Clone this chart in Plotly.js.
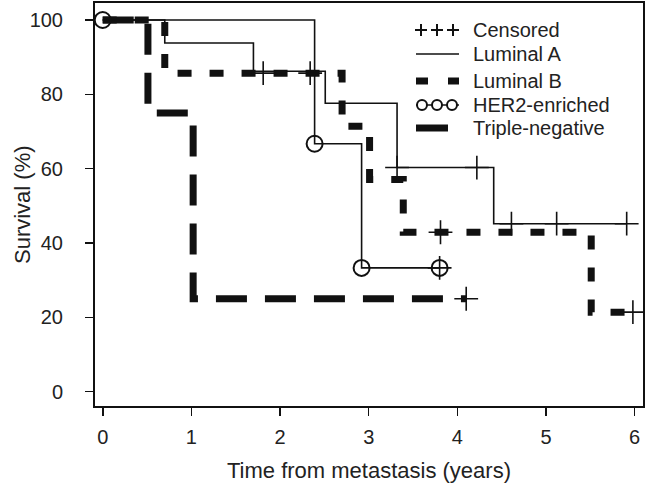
<!DOCTYPE html>
<html>
<head>
<meta charset="utf-8">
<script src="https://cdn.plot.ly/plotly-3.0.1.min.js"></script>
<style>html,body{margin:0;padding:0;background:#fff;}#chart{width:648px;height:485px;}</style>
</head>
<body>
<div id="chart"></div>
<script>
// ---- data ----
var lumATime = [0, 0.70, 1.70, 2.51, 3.32, 4.41, 5.91];
var lumASurv = [100, 93.8, 86.2, 77.6, 60.3, 45.2, 45.2];
var lumACensTime = [3.32, 4.22, 4.61, 5.12, 5.91];
var lumACensSurv = [60.3, 60.3, 45.2, 45.2, 45.2];

var lumBTime = [0, 0.70, 2.70, 3.01, 3.39, 5.51, 5.98];
var lumBSurv = [100, 85.7, 71.4, 57.1, 42.9, 21.4, 21.4];
var lumBCensTime = [1.81, 2.34, 3.81, 5.98];
var lumBCensSurv = [85.7, 85.7, 42.9, 21.4];

var her2Time = [0, 2.39, 2.92, 3.80];
var her2Surv = [100, 66.7, 33.3, 33.3];
var her2CensTime = [3.80];
var her2CensSurv = [33.3];

var tnTime = [0, 0.51, 1.02, 4.10];
var tnSurv = [100, 75, 25, 25];
var tnCensTime = [4.10];
var tnCensSurv = [25];

var xTicks = [0, 1, 2, 3, 4, 5, 6];
var yTicks = [0, 20, 40, 60, 80, 100];
var legendLabels = ['Censored', 'Luminal A', 'Luminal B', 'HER2-enriched', 'Triple-negative'];
var xTitle = 'Time from metastasis (years)';
var yTitle = 'Survival (%)';

// ---- styling ----
var FONT = '"Liberation Sans", Arial, Helvetica, sans-serif';
var INK = '#111';

function stepTrace(t, s, width, dash, mode, marker) {
  var tr = {x: t, y: s, type: 'scatter', mode: mode || 'lines',
    line: {shape: 'hv', color: INK, width: width, dash: dash || 'solid'},
    hoverinfo: 'skip', showlegend: false};
  if (marker) tr.marker = marker;
  return tr;
}
function censTrace(t, s) {
  return {x: t, y: s, type: 'scatter', mode: 'markers',
    marker: {symbol: 'cross-thin', size: 17, color: INK, line: {width: 1.6, color: INK}},
    hoverinfo: 'skip', showlegend: false};
}

var traces = [
  stepTrace(tnTime, tnSurv, 7, '31px,18px'),
  stepTrace(lumBTime, lumBSurv, 7, '14px,18px'),
  stepTrace(lumATime, lumASurv, 1.6, 'solid'),
  stepTrace(her2Time, her2Surv, 1.6, 'solid', 'lines+markers',
    {symbol: 'circle-open', size: 16, color: INK, line: {width: 2, color: INK}}),
  censTrace(lumACensTime, lumACensSurv),
  censTrace(lumBCensTime, lumBCensSurv),
  censTrace(her2CensTime, her2CensSurv),
  censTrace(tnCensTime, tnCensSurv)
];

// ---- custom legend (pixel positions converted to paper coordinates) ----
var PL = 95, PR = 643, PT = 3, PB = 406;
function px(x) { return (x - PL) / (PR - PL); }
function py(y) { return (PB - y) / (PB - PT); }
function seg(x0, y0, x1, y1, w) {
  return {type: 'line', xref: 'paper', yref: 'paper', x0: px(x0), y0: py(y0), x1: px(x1), y1: py(y1),
    line: {color: INK, width: w}};
}
var rowY = [30, 54, 81, 105, 128];
var shapes = [];
// +++
[421, 437, 453].forEach(function (cx) {
  shapes.push(seg(cx - 6, rowY[0], cx + 6, rowY[0], 2));
  shapes.push(seg(cx, rowY[0] - 6, cx, rowY[0] + 6, 2));
});
// Luminal A
shapes.push(seg(416, rowY[1], 459, rowY[1], 1.6));
// Luminal B
shapes.push(seg(416, rowY[2], 428, rowY[2], 7));
shapes.push(seg(448, rowY[2], 459, rowY[2], 7));
// HER2
shapes.push(seg(416, rowY[3], 459, rowY[3], 1.6));
[422, 437, 452].forEach(function (cx) {
  shapes.push({type: 'circle', xref: 'paper', yref: 'paper',
    x0: px(cx - 5), x1: px(cx + 5), y0: py(rowY[3] + 5), y1: py(rowY[3] - 5),
    line: {color: INK, width: 2}, fillcolor: 'white'});
});
// Triple-negative
shapes.push(seg(416, rowY[4], 448, rowY[4], 7));

var annotations = legendLabels.map(function (lab, i) {
  return {text: lab, xref: 'paper', yref: 'paper', x: px(471), y: py(rowY[i]),
    xanchor: 'left', yanchor: 'middle', showarrow: false,
    font: {family: FONT, size: 20, color: '#222'}};
});
// y-axis title placed as rotated annotation
annotations.push({text: yTitle, xref: 'paper', yref: 'paper', x: px(22), y: py(205),
  xanchor: 'center', yanchor: 'middle', textangle: -90, showarrow: false,
  font: {family: FONT, size: 22, color: '#222'}});

var axisCommon = {
  showline: true, mirror: true, linecolor: INK, linewidth: 2,
  ticks: 'outside', ticklen: 8, tickwidth: 1.6, tickcolor: INK,
  showgrid: false, zeroline: false,
  tickfont: {family: FONT, size: 20, color: '#222'}
};

var layout = {
  width: 648, height: 485,
  margin: {l: PL, r: 648 - PR, t: PT, b: 485 - PB},
  paper_bgcolor: 'white', plot_bgcolor: 'white',
  showlegend: false,
  xaxis: Object.assign({}, axisCommon, {
    range: [-0.087, 6.094], tickmode: 'array', tickvals: xTicks,
    ticktext: xTicks.map(String), ticklabelstandoff: 4,
    title: {text: xTitle, font: {family: FONT, size: 22, color: '#222'}, standoff: 16}
  }),
  yaxis: Object.assign({}, axisCommon, {
    range: [-3.85, 104.57], tickmode: 'array', tickvals: yTicks,
    ticktext: yTicks.map(String), ticklabelstandoff: 18
  }),
  shapes: shapes,
  annotations: annotations
};

Plotly.newPlot('chart', traces, layout, {displayModeBar: false, staticPlot: true});
</script>
</body>
</html>
